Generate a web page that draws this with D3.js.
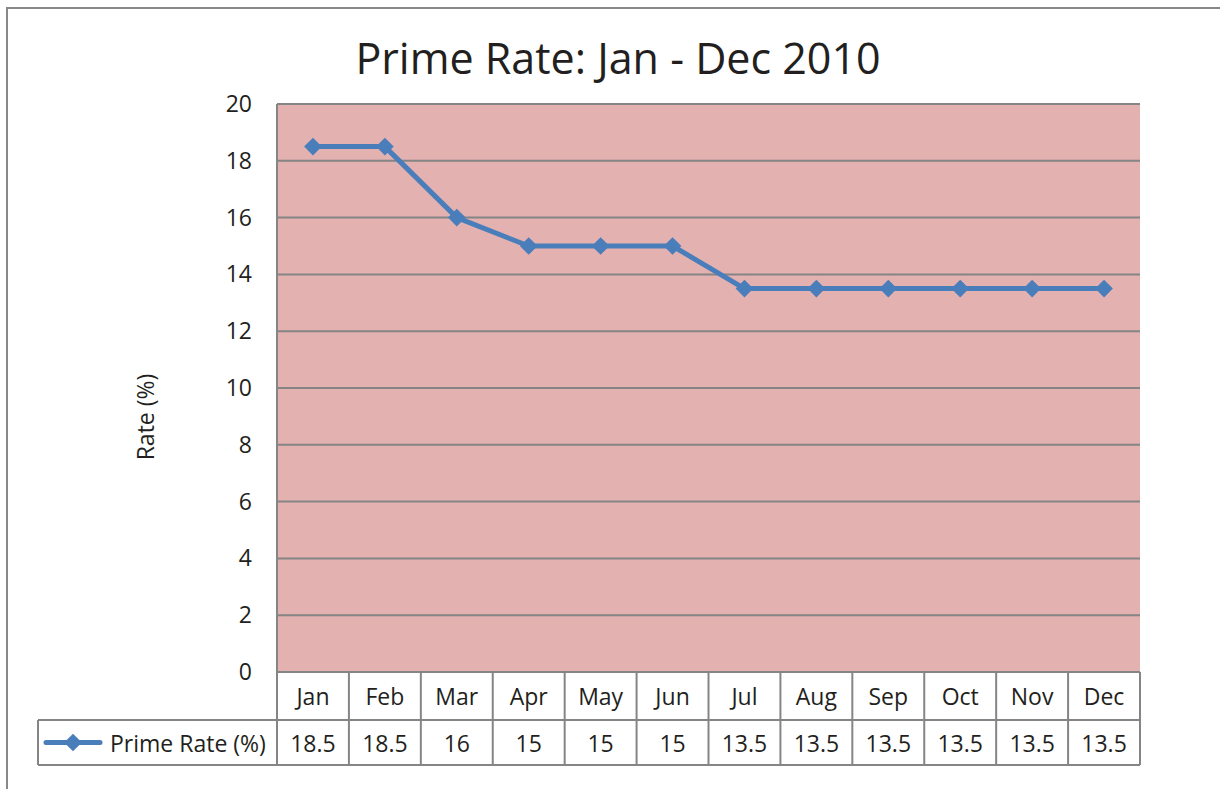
<!DOCTYPE html>
<html><head><meta charset="utf-8">
<script src="https://cdn.jsdelivr.net/npm/d3@7"></script>
<style>body{margin:0;background:#fff}svg{display:block}text{font-family:"Open Sans","Noto Sans",sans-serif;fill:#231f20}</style>
</head><body>
<svg id="c" width="1220" height="789"></svg>
<script>
const months = ["Jan","Feb","Mar","Apr","May","Jun","Jul","Aug","Sep","Oct","Nov","Dec"];
const rates = [18.5,18.5,16,15,15,15,13.5,13.5,13.5,13.5,13.5,13.5];
const yTicks = [0,2,4,6,8,10,12,14,16,18,20];
const seriesName = "Prime Rate (%)";
const titleText = "Prime Rate: Jan - Dec 2010";
const yLabel = "Rate (%)";

const svg = d3.select("#c");
const L = 277, R = 1140, T = 104, B = 672;
const rowH1 = 48, rowH2 = 45, legL = 38;
const grid = "#858585", lineC = "#4a7ebb", bg = "#e3b1b0";
const fs = 23;

svg.append("rect").attr("x",7).attr("y",8).attr("width",1300).attr("height",900)
  .attr("fill","none").attr("stroke","#888").attr("stroke-width",2);

const x = d3.scaleBand().domain(months).range([L,R]);
const y = d3.scaleLinear().domain([0,20]).range([B,T]);

svg.append("rect").attr("x",L).attr("y",T).attr("width",R-L).attr("height",B-T).attr("fill",bg);

svg.append("g").selectAll("line").data(yTicks).join("line")
  .attr("x1",L).attr("x2",R).attr("y1",d=>y(d)).attr("y2",d=>y(d))
  .attr("stroke",grid).attr("stroke-width",2);
svg.append("line").attr("x1",L).attr("x2",L).attr("y1",T).attr("y2",B).attr("stroke",grid).attr("stroke-width",2);

svg.append("g").selectAll("text").data(yTicks).join("text")
  .attr("x",252).attr("y",d=>y(d)).attr("dy","0.35em").attr("text-anchor","end")
  .attr("font-size",fs).text(d=>d);

svg.append("text").attr("transform","translate(154,417) rotate(-90)").attr("text-anchor","middle")
  .attr("font-size",fs).text(yLabel);

svg.append("text").attr("x",618).attr("y",74).attr("text-anchor","middle").attr("font-size",43).text(titleText);

const line = d3.line().x((d,i)=>x(months[i])+x.bandwidth()/2).y(d=>y(d));
svg.append("path").datum(rates).attr("d",line).attr("fill","none").attr("stroke",lineC).attr("stroke-width",5).attr("stroke-linejoin","round");
const diamond = d3.symbol().type(d3.symbolDiamond2).size(200);
svg.append("g").selectAll("path").data(rates).join("path")
  .attr("transform",(d,i)=>`translate(${x(months[i])+x.bandwidth()/2},${y(d)})`)
  .attr("d",diamond()).attr("fill",lineC);

const tb = svg.append("g");
const y1 = B, y2 = B+rowH1, y3 = B+rowH1+rowH2;
tb.append("g").selectAll("line").data(months.map(m=>x(m)).concat([R])).join("line")
  .attr("x1",d=>d).attr("x2",d=>d).attr("y1",y1).attr("y2",y3).attr("stroke",grid).attr("stroke-width",2);
tb.append("line").attr("x1",legL).attr("x2",R).attr("y1",y2).attr("y2",y2).attr("stroke",grid).attr("stroke-width",2);
tb.append("line").attr("x1",legL).attr("x2",R).attr("y1",y3).attr("y2",y3).attr("stroke",grid).attr("stroke-width",2);
tb.append("line").attr("x1",legL).attr("x2",legL).attr("y1",y2).attr("y2",y3).attr("stroke",grid).attr("stroke-width",2);

tb.append("g").selectAll("text").data(months).join("text")
  .attr("x",d=>x(d)+x.bandwidth()/2).attr("y",(y1+y2)/2+1).attr("dy","0.35em").attr("text-anchor","middle")
  .attr("font-size",fs).text(d=>d);
tb.append("g").selectAll("text").data(rates).join("text")
  .attr("x",(d,i)=>x(months[i])+x.bandwidth()/2).attr("y",(y2+y3)/2+1).attr("dy","0.35em").attr("text-anchor","middle")
  .attr("font-size",fs).text(d=>d);

const ly = (y2+y3)/2;
tb.append("line").attr("x1",46).attr("x2",100).attr("y1",ly).attr("y2",ly).attr("stroke",lineC).attr("stroke-width",5).attr("stroke-linecap","round");
tb.append("path").attr("transform",`translate(73,${ly})`).attr("d",diamond()).attr("fill",lineC);
tb.append("text").attr("x",110).attr("y",ly+1).attr("dy","0.35em").attr("font-size",fs).text(seriesName);
</script>
</body></html>
